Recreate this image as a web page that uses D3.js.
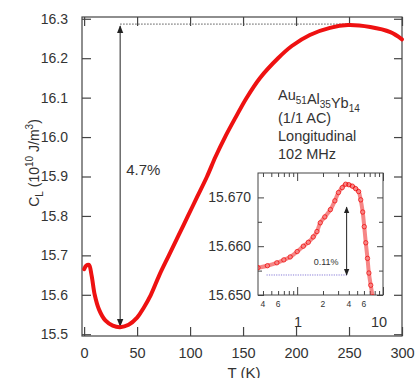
<!DOCTYPE html>
<html>
<head>
<meta charset="utf-8">
<script src="https://cdn.jsdelivr.net/npm/d3@7"></script>
<style>
  body { margin: 0; background: #fff; }
  text { font-family: "Liberation Sans", Arial, sans-serif; fill: #333; }
</style>
</head>
<body>
<div id="svgdiv"></div>
<script>
// main curve: T (K), C_L (10^10 J/m^3)
var mainT = [0, 2, 4.5, 7, 10, 14, 20, 27, 34, 42, 50, 56, 63, 71, 80, 89, 98, 107, 116, 124,
             133, 143, 153, 166, 183, 196, 213, 232, 249, 270, 289, 300];
var mainC = [15.665, 15.674, 15.676, 15.650, 15.600, 15.563, 15.535, 15.522, 15.518, 15.524,
             15.542, 15.566, 15.600, 15.650, 15.700, 15.750, 15.800, 15.850, 15.900, 15.950,
             16.000, 16.050, 16.098, 16.150, 16.200, 16.231, 16.259, 16.277, 16.284, 16.279,
             16.266, 16.248];

// inset, low temperature (log T)
var insetT = [0.35, 0.45, 0.58, 0.7, 0.83, 1.0, 1.18, 1.35, 1.54, 1.7, 1.86, 2.1, 2.44, 2.75,
              3.03, 3.35, 3.67, 4.0, 4.4, 4.8, 5.2, 5.5, 5.8, 6.05, 6.3, 6.6, 6.85, 7.2, 7.6];
var insetC = [15.6556, 15.6560, 15.6566, 15.6572, 15.6578, 15.6589, 15.6600, 15.6608, 15.6619,
              15.6630, 15.6648, 15.6660, 15.6675, 15.6693, 15.6710, 15.6720, 15.6727, 15.6726,
              15.6723, 15.6718, 15.6712, 15.6695, 15.6670, 15.6640, 15.6607, 15.6575, 15.6545,
              15.6520, 15.6496];

var xTicks = [0, 50, 100, 150, 200, 250, 300];
var yTicks = [15.5, 15.6, 15.7, 15.8, 15.9, 16.0, 16.1, 16.2, 16.3];
var insetYTicks = [15.650, 15.660, 15.670];
var insetYMinor = [15.655, 15.665];
var insetXSmall = [0.4, 0.6, 2, 4, 6];
var insetXMajor = [1, 10];
var insetXMinor = [0.4, 0.5, 0.6, 0.7, 0.8, 0.9, 2, 3, 4, 5, 6, 7, 8, 9];

var labelLines = ["(1/1 AC)", "Longitudinal", "102 MHz"];

var width = 416, height = 378;
var axisColor = "#444";

var svg = d3.select("#svgdiv").append("svg")
    .attr("width", width)
    .attr("height", height);

var defs = svg.append("defs");
function arrowMarker(id, size) {
    defs.append("marker")
        .attr("id", id)
        .attr("viewBox", "0 0 10 10")
        .attr("refX", 9).attr("refY", 5)
        .attr("markerWidth", size).attr("markerHeight", size)
        .attr("markerUnits", "userSpaceOnUse")
        .attr("orient", "auto-start-reverse")
        .append("path")
        .attr("d", "M0,1 L10,5 L0,9 Z")
        .attr("fill", "#222");
}
arrowMarker("arr", 8);
arrowMarker("arrSmall", 7);

// ---- main panel ----
var mLeft = 82, mRight = 402, mTop = 17, mBottom = 336;
var x = d3.scaleLinear().domain([-2, 300]).range([mLeft, mRight]);
var y = d3.scaleLinear().domain([15.4955, 16.3045]).range([mBottom, mTop]);

svg.append("rect")
    .attr("x", mLeft).attr("y", mTop)
    .attr("width", mRight - mLeft).attr("height", mBottom - mTop)
    .attr("fill", "none").attr("stroke", axisColor).attr("stroke-width", 1.2);

// inward ticks on all four sides
svg.append("g").attr("transform", "translate(0," + mBottom + ")")
    .call(d3.axisBottom(x).tickValues(xTicks).tickSizeInner(-9).tickSizeOuter(0).tickPadding(12))
    .call(function(g) {
        g.select(".domain").remove();
        g.selectAll("line").attr("stroke", axisColor).attr("stroke-width", 1.2);
        g.selectAll("text").attr("font-size", "14.5px").attr("fill", "#333")
            .attr("font-family", "Liberation Sans, Arial, sans-serif");
    });
svg.append("g").attr("transform", "translate(0," + mTop + ")")
    .call(d3.axisTop(x).tickValues(xTicks).tickSizeInner(-9).tickSizeOuter(0).tickFormat(""))
    .call(function(g) {
        g.select(".domain").remove();
        g.selectAll("line").attr("stroke", axisColor).attr("stroke-width", 1.2);
    });
svg.append("g").attr("transform", "translate(" + mLeft + ",0)")
    .call(d3.axisLeft(y).tickValues(yTicks).tickFormat(d3.format(".1f"))
        .tickSizeInner(-9).tickSizeOuter(0).tickPadding(14))
    .call(function(g) {
        g.select(".domain").remove();
        g.selectAll("line").attr("stroke", axisColor).attr("stroke-width", 1.2);
        g.selectAll("text").attr("font-size", "14px").attr("fill", "#333")
            .attr("font-family", "Liberation Sans, Arial, sans-serif");
    });
svg.append("g").attr("transform", "translate(" + mRight + ",0)")
    .call(d3.axisRight(y).tickValues(yTicks).tickFormat("").tickSizeInner(-8).tickSizeOuter(0))
    .call(function(g) {
        g.select(".domain").remove();
        g.selectAll("line").attr("stroke", axisColor).attr("stroke-width", 1.2);
    });

// axis titles
svg.append("text")
    .attr("x", (mLeft + mRight) / 2 + 2).attr("y", 378)
    .attr("text-anchor", "middle").attr("font-size", "15px")
    .text("T (K)");

var yTitle = svg.append("text")
    .attr("transform", "translate(39,163) rotate(-90)")
    .attr("text-anchor", "middle").attr("font-size", "14px");
yTitle.append("tspan").text("C");
yTitle.append("tspan").attr("font-size", "10px").attr("dy", 4).text("L");
yTitle.append("tspan").attr("dy", -4).text(" (10");
yTitle.append("tspan").attr("font-size", "10px").attr("dy", -6).text("10");
yTitle.append("tspan").attr("dy", 6).text(" J/m");
yTitle.append("tspan").attr("font-size", "10px").attr("dy", -6).text("3");
yTitle.append("tspan").attr("dy", 6).text(")");

// 4.7% arrow and dotted reference line
var tMin = mainT[d3.minIndex(mainC)];
var tMax = mainT[d3.maxIndex(mainC)];
var cMin = d3.min(mainC), cMax = d3.max(mainC);

svg.append("line")
    .attr("x1", x(tMin)).attr("x2", x(tMax))
    .attr("y1", y(cMax) - 1).attr("y2", y(cMax) - 1)
    .attr("stroke", "#555").attr("stroke-width", 1).attr("stroke-dasharray", "1.5,1.5");
svg.append("line")
    .attr("x1", x(tMin)).attr("x2", x(tMin))
    .attr("y1", y(cMax) + 1).attr("y2", y(cMin) - 1)
    .attr("stroke", "#222").attr("stroke-width", 1)
    .attr("marker-start", "url(#arr)").attr("marker-end", "url(#arr)");
svg.append("text")
    .attr("x", x(tMin) + 6).attr("y", 175)
    .attr("font-size", "15px")
    .text("4.7%");

var mainLine = d3.line()
    .x(function(d, i) { return x(mainT[i]); })
    .y(function(d) { return y(d); })
    .curve(d3.curveCatmullRom);

svg.append("path")
    .datum(mainC)
    .attr("d", mainLine)
    .attr("fill", "none")
    .attr("stroke", "#ee1111")
    .attr("stroke-width", 4)
    .attr("stroke-linecap", "round");

// sample label
var lab = svg.append("g").attr("transform", "translate(278,0)");
var formula = lab.append("text").attr("y", 100).attr("font-size", "14.5px");
[["Au", "51"], ["Al", "35"], ["Yb", "14"]].forEach(function(p) {
    formula.append("tspan").attr("dy", 0).text(p[0]);
    formula.append("tspan").attr("font-size", "10px").attr("dy", 4).text(p[1]);
    formula.append("tspan").attr("dy", -4).text("");
});
labelLines.forEach(function(s, i) {
    lab.append("text").attr("y", 123 + i * 18).attr("font-size", "14.5px").text(s);
});

// ---- inset ----
var iLeft = 258, iRight = 383, iTop = 173, iBottom = 295;
var ix = d3.scaleLog().domain([0.35, 10]).range([iLeft, iRight]);
var iy = d3.scaleLinear().domain([15.650, 15.675]).range([iBottom, iTop]);

svg.append("rect")
    .attr("x", iLeft).attr("y", iTop)
    .attr("width", iRight - iLeft).attr("height", iBottom - iTop)
    .attr("fill", "#fff").attr("stroke", axisColor).attr("stroke-width", 1);

function styleTicks(g) {
    g.select(".domain").remove();
    g.selectAll("line").attr("stroke", axisColor).attr("stroke-width", 1);
}

// x ticks, bottom and top
[[iBottom, d3.axisBottom], [iTop, d3.axisTop]].forEach(function(s) {
    svg.append("g").attr("transform", "translate(0," + s[0] + ")")
        .call(s[1](ix).tickValues(insetXMinor).tickSizeInner(-4).tickSizeOuter(0).tickFormat(""))
        .call(styleTicks);
    svg.append("g").attr("transform", "translate(0," + s[0] + ")")
        .call(s[1](ix).tickValues(insetXMajor).tickSizeInner(-8).tickSizeOuter(0).tickFormat(""))
        .call(styleTicks);
});
svg.append("g").selectAll("text")
    .data(insetXSmall).join("text")
    .attr("x", function(d) { return ix(d); })
    .attr("y", iBottom + 12)
    .attr("text-anchor", "middle").attr("font-size", "8.5px")
    .text(function(d) { return d < 1 ? Math.round(d * 10) : d; });
svg.append("g").selectAll("text")
    .data(insetXMajor).join("text")
    .attr("x", function(d) { return ix(d) - (d == 10 ? 4 : -1); })
    .attr("y", iBottom + 32)
    .attr("text-anchor", "middle").attr("font-size", "14.5px")
    .text(function(d) { return d; });

// y ticks, left and right
svg.append("g").attr("transform", "translate(" + iLeft + ",0)")
    .call(d3.axisLeft(iy).tickValues(insetYTicks).tickFormat(d3.format(".3f"))
        .tickSizeInner(-6).tickSizeOuter(0).tickPadding(7))
    .call(styleTicks)
    .call(function(g) {
        g.selectAll("text").attr("font-size", "14px").attr("fill", "#333")
            .attr("font-family", "Liberation Sans, Arial, sans-serif");
    });
svg.append("g").attr("transform", "translate(" + iLeft + ",0)")
    .call(d3.axisLeft(iy).tickValues(insetYMinor).tickFormat("").tickSizeInner(-4).tickSizeOuter(0))
    .call(styleTicks);
svg.append("g").attr("transform", "translate(" + iRight + ",0)")
    .call(d3.axisRight(iy).tickValues(insetYTicks).tickFormat("").tickSizeInner(-6).tickSizeOuter(0))
    .call(styleTicks);
svg.append("g").attr("transform", "translate(" + iRight + ",0)")
    .call(d3.axisRight(iy).tickValues(insetYMinor).tickFormat("").tickSizeInner(-4).tickSizeOuter(0))
    .call(styleTicks);

svg.append("clipPath").attr("id", "iclip")
    .append("rect")
    .attr("x", iLeft).attr("y", iTop)
    .attr("width", iRight - iLeft).attr("height", iBottom - iTop);

var insetG = svg.append("g").attr("clip-path", "url(#iclip)");

var insetLine = d3.line()
    .x(function(d, i) { return ix(insetT[i]); })
    .y(function(d) { return iy(d); })
    .curve(d3.curveCatmullRom);

insetG.append("path")
    .datum(insetC)
    .attr("d", insetLine)
    .attr("fill", "none")
    .attr("stroke", "#ee2222")
    .attr("stroke-opacity", 0.55)
    .attr("stroke-width", 4);

insetG.selectAll("circle")
    .data(insetC).join("circle")
    .attr("cx", function(d, i) { return ix(insetT[i]); })
    .attr("cy", function(d) { return iy(d); })
    .attr("r", 2.2)
    .attr("fill", "none")
    .attr("stroke", "#e00")
    .attr("stroke-opacity", 0.7)
    .attr("stroke-width", 1);

// 0.11% arrow
var aT = 3.77, aLow = 15.6541, aHigh = 15.6680;
svg.append("line")
    .attr("x1", ix(0.44)).attr("x2", ix(aT))
    .attr("y1", iy(aLow)).attr("y2", iy(aLow))
    .attr("stroke", "#6a5acd").attr("stroke-width", 0.8).attr("stroke-dasharray", "1.2,1.2");
svg.append("line")
    .attr("x1", ix(aT)).attr("x2", ix(aT))
    .attr("y1", iy(aLow)).attr("y2", iy(aHigh))
    .attr("stroke", "#222").attr("stroke-width", 1)
    .attr("marker-start", "url(#arrSmall)").attr("marker-end", "url(#arrSmall)");
svg.append("text")
    .attr("x", ix(aT) - 8).attr("y", 265)
    .attr("text-anchor", "end").attr("font-size", "9px")
    .text("0.11%");
</script>
</body>
</html>
